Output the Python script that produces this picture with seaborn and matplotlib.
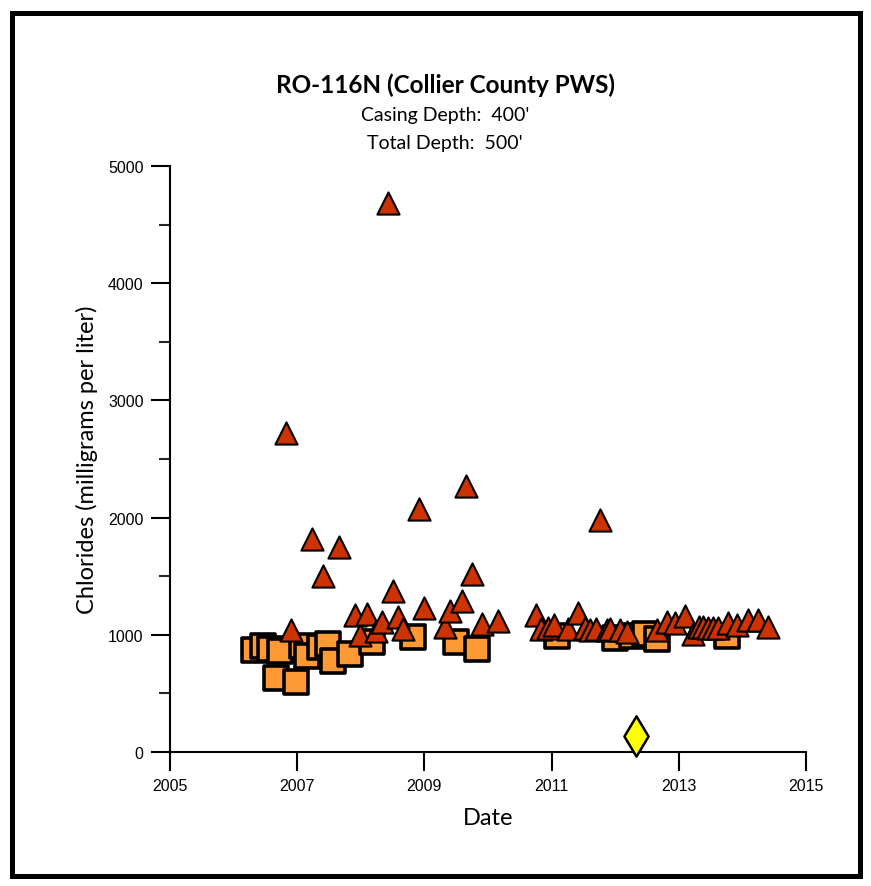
import numpy as np
import pandas as pd
import seaborn as sns
import matplotlib.pyplot as plt
from matplotlib.patches import Rectangle

# samples (decimal year, chlorides mg/L)
square_years = [2006.32, 2006.46, 2006.57, 2006.73, 2006.67, 2006.98, 2007.08, 2007.15,
                2007.36, 2007.48, 2007.56, 2007.83, 2008.18, 2008.82, 2009.50, 2009.83,
                2011.09, 2012.00, 2012.26, 2012.47, 2012.66, 2013.76]
square_values = [870, 904, 879, 862, 631, 597, 904, 819,
                 896, 921, 776, 836, 939, 981, 939, 879,
                 990, 973, 990, 1007, 964, 990]

tri_years = [2006.83, 2006.91, 2007.24, 2007.41, 2007.66, 2007.91, 2007.99, 2008.09,
             2008.24, 2008.33, 2008.42, 2008.50, 2008.59, 2008.67, 2008.92, 2009.00,
             2009.32, 2009.40, 2009.59, 2009.66, 2009.75, 2009.91, 2010.16, 2010.75,
             2010.84, 2010.95, 2011.03, 2011.26, 2011.42, 2011.53, 2011.60, 2011.70,
             2011.76, 2011.87, 2011.92, 2012.08, 2012.18, 2012.65, 2012.81, 2012.94,
             2013.10, 2013.23, 2013.31, 2013.38, 2013.46, 2013.54, 2013.62, 2013.78,
             2013.91, 2014.09, 2014.25, 2014.41]
tri_values = [2720, 1040, 1815, 1500, 1745, 1170, 1000, 1175,
              1030, 1110, 4680, 1370, 1150, 1045, 2070, 1230,
              1070, 1200, 1285, 2265, 1515, 1090, 1115, 1170,
              1045, 1058, 1080, 1052, 1186, 1058, 1044, 1052,
              1980, 1044, 1052, 1044, 1027, 1044, 1110, 1100,
              1158, 1005, 1070, 1070, 1061, 1061, 1061, 1100,
              1087, 1130, 1130, 1070]

diamond_years = [2012.33]
diamond_values = [137]

sq = pd.DataFrame({'year': square_years, 'chlorides': square_values})
tri = pd.DataFrame({'year': tri_years, 'chlorides': tri_values})
dia = pd.DataFrame({'year': diamond_years, 'chlorides': diamond_values})

sns.set_style('ticks')
plt.rcParams['font.family'] = ['Liberation Sans', 'DejaVu Sans']
plt.rcParams['text.color'] = 'black'
plt.rcParams['axes.labelcolor'] = 'black'

fig = plt.figure(figsize=(8.71, 8.87), dpi=100)
ax = fig.add_axes([0.1952, 0.1511, 0.7302, 0.6607])

sns.scatterplot(data=sq, x='year', y='chlorides', marker='s', s=300,
                color='#FF9933', edgecolor='black', linewidth=2.6, ax=ax, zorder=3)
sns.scatterplot(data=tri, x='year', y='chlorides', marker='^', s=255,
                color='#CC3300', edgecolor='black', linewidth=1.5, ax=ax, zorder=4)
sns.scatterplot(data=dia, x='year', y='chlorides', marker='d', s=420,
                color='#FFFF00', edgecolor='black', linewidth=1.8, ax=ax, zorder=5,
                clip_on=False)

ax.set_xlim(2005, 2015)
ax.set_ylim(0, 5000)
ax.set_xticks(range(2005, 2016, 2))
ax.set_yticks(range(0, 5001, 1000))
ax.set_yticks(np.arange(500, 5000, 1000), minor=True)
ax.tick_params(axis='both', which='major', direction='out', length=14, width=1.5,
               labelsize=11.5, colors='black', pad=5)
ax.tick_params(axis='y', which='minor', direction='out', length=8, width=1.5)

sns.despine(ax=ax)
for side in ['left', 'bottom']:
    ax.spines[side].set_linewidth(1.5)
    ax.spines[side].set_color('black')

ax.set_xlabel('Date', family=['Lato', 'DejaVu Sans'], fontsize=17, labelpad=10)
ax.set_ylabel('Chlorides (milligrams per liter)', family=['Lato', 'DejaVu Sans'],
              fontsize=17, labelpad=7)

fig.text(0.511, 0.904, 'RO-116N (Collier County PWS)', ha='center', va='center',
         fontsize=17.5, fontweight='bold', family=['Lato', 'DejaVu Sans'])
fig.text(0.511, 0.870, "Casing Depth:  400'", ha='center', va='center',
         fontsize=14, family=['Lato', 'DejaVu Sans'])
fig.text(0.511, 0.838, "Total Depth:  500'", ha='center', va='center',
         fontsize=14, family=['Lato', 'DejaVu Sans'])

fig.add_artist(Rectangle((0.0138, 0.0113), 0.9736, 0.973, transform=fig.transFigure,
                         fill=False, edgecolor='black', linewidth=3.6))

fig.savefig('out.png', dpi=100)
